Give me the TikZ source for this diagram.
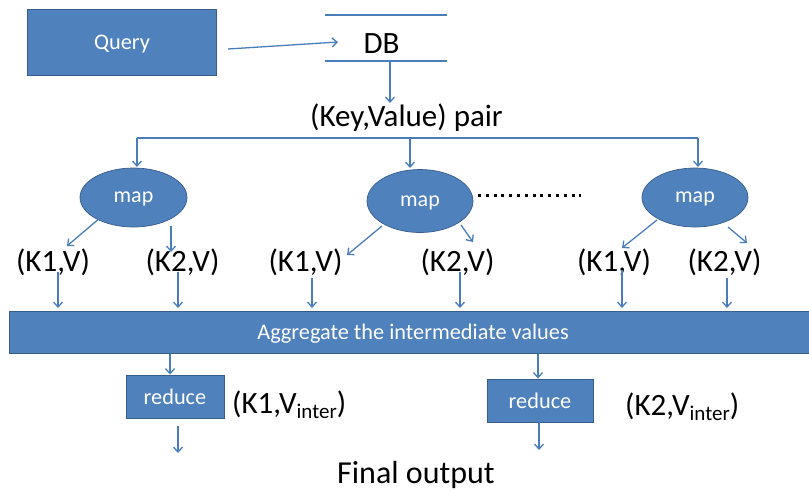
\documentclass[tikz,border=0pt]{standalone}
\usepackage{fontspec}
\setmainfont{Carlito}
\usetikzlibrary{arrows.meta,shapes.geometric}
\definecolor{boxblue}{HTML}{4F81BD}
\definecolor{boxedge}{HTML}{385D8A}
\definecolor{linkblue}{HTML}{4A7EBB}
\newcommand{\vinter}{V\raisebox{-5pt}{\fontsize{21}{21}\selectfont inter}}
\begin{document}
\begin{tikzpicture}[x=1pt,y=-1pt,
  blockbox/.style={draw=boxedge, line width=0.9pt, fill=boxblue, text=white,
    inner sep=0pt, text depth=0pt, font=\fontsize{22.3}{22}\selectfont},
  mapnode/.style={ellipse, draw=boxedge, line width=0.7pt, fill=boxblue, text=white,
    inner sep=0pt, text depth=0pt, font=\fontsize{22}{22}\selectfont},
  arr/.style={draw=linkblue, line width=1.3pt, -{Straight Barb[length=5pt,width=9pt]}},
  plain/.style={draw=linkblue, line width=1.3pt},
  lbl/.style={font=\fontsize{31}{31}\selectfont, inner sep=0pt, anchor=base}]
\useasboundingbox (0,0) rectangle (809,491);

% query and database
\node[blockbox, minimum width=189pt, minimum height=66pt] (query) at (122,42) {Query};
\draw[plain] (325,15) -- (447,15);
\draw[plain] (325,61) -- (447,61);
\node[lbl] (db) at (381.5,53) {DB};
\coordinate (qout) at (228,49);
\coordinate (dbin) at (338,42);
\draw[arr] (qout) -- (dbin);

\node[lbl, anchor=base west] (pair) at (310,126) {(Key,Value) pair};
\coordinate (dbout) at (390,61);
\coordinate (pairin) at (390,103);
\draw[arr] (dbout) -- (pairin);

% map tasks
\node[mapnode, minimum width=107pt, minimum height=59pt] (map1) at (133.5,197.5) {map};
\node[mapnode, minimum width=106pt, minimum height=63pt] (map2) at (420,201) {map};
\node[mapnode, minimum width=106pt, minimum height=59pt] (map3) at (695,197.5) {map};

\coordinate (s1) at (137,138);
\coordinate (s2) at (410,138);
\coordinate (s3) at (698,138);
\draw[plain] (s1) -- (s3);
\draw[arr] (s1) -- (137,167);
\draw[arr] (s2) -- (410,168);
\draw[arr] (s3) -- (698,167);

\draw[line width=3pt, dash pattern=on 3pt off 4.8pt] (478,195) -- (581,195);

% intermediate pairs
\node[lbl] (k11) at (53,271) {(K1,V)};
\node[lbl] (k12) at (182.5,271) {(K2,V)};
\node[lbl] (k21) at (305.5,271) {(K1,V)};
\node[lbl] (k22) at (457.5,271) {(K2,V)};
\node[lbl] (k31) at (614,271) {(K1,V)};
\node[lbl] (k32) at (724.5,271) {(K2,V)};

\draw[arr] (map1.212) -- (67,246);
\draw[arr] (171,226) -- (171,252);
\draw[arr] (382,226) -- (347,255);
\draw[arr] (461,225) -- (473,242);
\draw[arr] (657,220) -- (622,248);
\draw[arr] (728,227) -- (747,243);

% aggregation bar
\node[blockbox, minimum width=808pt, minimum height=42pt] (agg) at (413,332)
  {Aggregate the intermediate values};

\draw[arr] (58,272) -- (58,308);
\draw[arr] (178,272) -- (178,308);
\draw[arr] (312,278) -- (312,308);
\draw[arr] (460,272) -- (460,308);
\draw[arr] (622,270) -- (622,308);
\draw[arr] (727,278) -- (727,308);

% reduce tasks
\node[blockbox, minimum width=98pt, minimum height=43pt] (red1) at (175,396.5) {reduce};
\node[blockbox, minimum width=106pt, minimum height=43pt] (red2) at (540,400.5) {reduce};

\draw[arr] (170,354) -- (red1.north -| 170,0);
\draw[arr] (538,354) -- (red2.north -| 538,0);
\draw[arr] (178,426) -- (178,453);
\draw[arr] (red2.south -| 539,0) -- (539,450);

\node[lbl, anchor=base west] (v1) at (232,413) {(K1,\vinter)};
\node[lbl, anchor=base west] (v2) at (625,415) {(K2,\vinter)};

\node[lbl, anchor=base west, font=\fontsize{32}{32}\selectfont] (final) at (337,483) {Final output};
\end{tikzpicture}
\end{document}
